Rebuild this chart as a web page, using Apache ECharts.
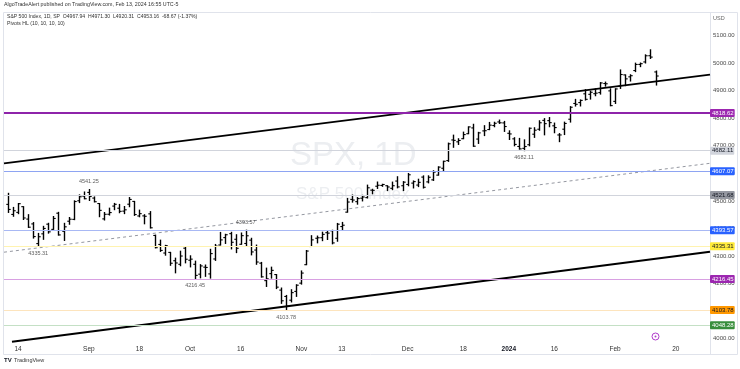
<!DOCTYPE html>
<html>
<head>
<meta charset="utf-8">
<script src="https://cdn.jsdelivr.net/npm/echarts@6/dist/echarts.min.js"></script>
<style>
html,body{margin:0;padding:0;background:#fff;}
#c{width:740px;height:369px;}
</style>
</head>
<body>
<div id="c"></div>
<script>
// ---- DATA ----
var dates = [
'2023-08-10','2023-08-11','2023-08-14','2023-08-15','2023-08-16','2023-08-17','2023-08-18','2023-08-21','2023-08-22','2023-08-23','2023-08-24','2023-08-25','2023-08-28','2023-08-29','2023-08-30','2023-08-31',
'2023-09-01','2023-09-05','2023-09-06','2023-09-07','2023-09-08','2023-09-11','2023-09-12','2023-09-13','2023-09-14','2023-09-15','2023-09-18','2023-09-19','2023-09-20','2023-09-21','2023-09-22','2023-09-25','2023-09-26','2023-09-27','2023-09-28','2023-09-29',
'2023-10-02','2023-10-03','2023-10-04','2023-10-05','2023-10-06','2023-10-09','2023-10-10','2023-10-11','2023-10-12','2023-10-13','2023-10-16','2023-10-17','2023-10-18','2023-10-19','2023-10-20','2023-10-23','2023-10-24','2023-10-25','2023-10-26','2023-10-27','2023-10-30','2023-10-31',
'2023-11-01','2023-11-02','2023-11-03','2023-11-06','2023-11-07','2023-11-08','2023-11-09','2023-11-10','2023-11-13','2023-11-14','2023-11-15','2023-11-16','2023-11-17','2023-11-20','2023-11-21','2023-11-22','2023-11-24','2023-11-27','2023-11-28','2023-11-29','2023-11-30',
'2023-12-01','2023-12-04','2023-12-05','2023-12-06','2023-12-07','2023-12-08','2023-12-11','2023-12-12','2023-12-13','2023-12-14','2023-12-15','2023-12-18','2023-12-19','2023-12-20','2023-12-21','2023-12-22','2023-12-26','2023-12-27','2023-12-28','2023-12-29',
'2024-01-02','2024-01-03','2024-01-04','2024-01-05','2024-01-08','2024-01-09','2024-01-10','2024-01-11','2024-01-12','2024-01-16','2024-01-17','2024-01-18','2024-01-19','2024-01-22','2024-01-23','2024-01-24','2024-01-25','2024-01-26','2024-01-29','2024-01-30','2024-01-31',
'2024-02-01','2024-02-02','2024-02-05','2024-02-06','2024-02-07','2024-02-08','2024-02-09','2024-02-12','2024-02-13',
'2024-02-14','2024-02-15','2024-02-16','2024-02-20'
];
var open = [
4487.16,4450.69,4458.13,4478.87,4433.79,4416.32,4344.88,4380.28,4415.33,4396.44,4455.16,4389.38,4426.03,4432.75,4500.34,4517.01,
4530.60,4510.06,4490.35,4434.55,4451.30,4480.98,4473.27,4462.65,4487.78,4497.98,4445.13,4445.41,4452.81,4374.36,4341.74,4310.62,4312.88,4282.63,4269.65,4328.18,
4284.52,4269.75,4233.83,4259.31,4234.79,4289.02,4339.75,4366.59,4380.94,4360.49,4342.37,4345.23,4357.35,4321.36,4273.85,4210.40,4235.79,4232.42,4175.99,4152.93,4139.39,4171.33,
4201.27,4268.26,4334.23,4364.27,4366.21,4384.37,4391.41,4364.15,4406.66,4458.97,4505.30,4497.08,4509.55,4511.70,4538.77,4553.04,4555.84,4554.86,4545.55,4571.84,4554.87,
4559.43,4564.37,4557.25,4586.23,4568.84,4576.20,4593.39,4618.30,4646.20,4721.04,4714.23,4725.58,4743.72,4764.73,4724.29,4753.92,4758.86,4773.45,4786.44,4782.88,
4745.20,4725.07,4697.42,4690.57,4703.70,4741.93,4759.94,4792.13,4791.18,4772.35,4739.13,4760.10,4796.28,4853.42,4856.80,4888.56,4886.66,4888.91,4892.95,4925.89,4899.19,
4861.11,4916.06,4957.19,4950.16,4973.05,4995.16,5004.17,5026.83,4967.94
];
var high = [
4527.37,4476.23,4490.33,4478.87,4449.95,4421.17,4381.82,4407.55,4418.59,4443.18,4458.30,4418.46,4439.56,4500.14,4521.65,4532.26,
4541.25,4514.29,4490.35,4457.81,4473.53,4490.77,4487.11,4479.39,4511.99,4497.98,4466.36,4449.85,4461.03,4375.70,4357.40,4338.51,4313.01,4292.07,4317.27,4333.15,
4300.58,4281.15,4268.50,4267.13,4324.10,4341.73,4385.46,4378.64,4385.85,4377.10,4383.33,4393.57,4364.20,4339.54,4276.56,4255.84,4259.38,4232.42,4183.60,4156.70,4177.47,4195.55,
4245.64,4319.72,4373.62,4372.21,4386.26,4391.20,4393.40,4418.03,4421.76,4508.67,4521.17,4511.99,4520.12,4557.11,4542.14,4568.43,4560.31,4554.86,4568.14,4587.64,4569.89,
4599.39,4572.37,4578.56,4590.74,4590.92,4609.23,4623.71,4643.93,4709.69,4738.57,4725.53,4749.52,4768.69,4778.01,4748.71,4772.94,4784.72,4785.39,4793.30,4788.43,
4754.33,4729.29,4726.78,4721.49,4764.54,4765.47,4790.80,4798.50,4802.40,4782.34,4744.23,4785.79,4842.07,4868.41,4866.48,4903.68,4898.15,4906.69,4929.31,4931.09,4906.75,
4906.97,4975.29,4957.19,4957.77,4999.89,5000.40,5030.06,5048.39,4971.30
];
var low = [
4457.92,4443.98,4453.44,4432.19,4403.55,4364.83,4335.31,4360.30,4382.77,4396.44,4375.55,4356.29,4414.98,4431.68,4493.59,4507.39,
4501.35,4496.01,4442.38,4430.46,4448.38,4467.89,4456.83,4453.52,4478.69,4447.21,4442.11,4416.61,4401.38,4329.17,4316.49,4302.70,4265.98,4238.63,4264.38,4274.86,
4260.21,4216.45,4220.48,4225.91,4219.55,4283.79,4339.64,4345.34,4325.43,4311.97,4342.37,4337.54,4303.84,4269.69,4223.03,4189.22,4219.43,4181.42,4127.90,4103.78,4132.94,4153.12,
4197.74,4268.26,4334.23,4347.53,4355.41,4359.76,4343.94,4353.34,4393.82,4458.97,4495.31,4487.83,4499.66,4510.36,4525.51,4545.05,4552.80,4537.26,4540.51,4547.15,4537.24,
4554.71,4546.72,4551.68,4546.50,4565.22,4574.06,4593.39,4608.09,4643.23,4694.34,4704.69,4725.58,4743.72,4697.82,4708.35,4736.77,4758.45,4768.90,4780.98,4751.99,
4722.67,4699.71,4687.53,4682.11,4699.82,4730.35,4756.20,4739.58,4768.98,4747.12,4714.82,4740.57,4785.87,4844.05,4844.37,4865.94,4869.34,4881.47,4887.40,4916.27,4845.15,
4853.52,4907.99,4918.09,4934.88,4969.05,4987.09,5000.34,5016.83,4920.31
];
var close = [
4468.83,4464.05,4489.72,4437.86,4404.33,4370.36,4369.71,4399.77,4387.55,4436.01,4376.31,4405.71,4433.31,4497.63,4514.87,4507.66,
4515.77,4496.83,4465.48,4451.14,4457.49,4487.46,4461.90,4467.44,4505.10,4450.32,4453.53,4443.95,4402.20,4330.00,4320.06,4337.44,4273.53,4274.51,4299.70,4288.05,
4288.39,4229.45,4263.75,4258.19,4308.50,4335.66,4358.24,4376.95,4349.61,4327.78,4373.63,4373.20,4314.60,4278.00,4224.16,4217.04,4247.68,4186.77,4137.23,4117.37,4166.82,4193.80,
4237.86,4317.78,4358.34,4365.98,4378.38,4382.78,4347.35,4415.24,4411.55,4495.70,4502.88,4508.24,4514.02,4547.38,4538.19,4556.62,4559.34,4550.43,4554.89,4550.58,4567.80,
4594.63,4569.78,4567.18,4549.34,4585.59,4604.37,4622.44,4643.70,4707.09,4719.55,4719.19,4740.56,4768.37,4698.35,4746.75,4754.63,4774.75,4781.58,4783.35,4769.83,
4742.83,4704.81,4688.68,4697.24,4763.54,4756.50,4783.45,4780.24,4783.83,4765.98,4739.21,4780.94,4839.81,4850.43,4864.60,4868.55,4894.16,4890.97,4927.93,4924.97,4845.65,
4906.19,4958.61,4942.81,4954.23,4995.06,4997.91,5026.61,5021.84,4953.16
];
var priceTicks = [4000,4100,4200,4300,4400,4500,4600,4700,4800,4900,5000,5100];
var timeLabelDates = ['2023-08-14','2023-09-01','2023-09-18','2023-10-02','2023-10-16','2023-11-01','2023-11-13','2023-12-01','2023-12-18','2024-01-02','2024-01-16','2024-02-01','2024-02-20'];
var timeLabelTexts = ['14','Sep','18','Oct','16','Nov','13','Dec','18','2024','16','Feb','20'];
var levelValues = [4953.16,4818.62,4682.11,4607.07,4521.68,4393.57,4335.31,4216.45,4103.78,4048.28];
var pivotHighDates = ['2023-09-01','2023-10-17'];
var pivotHighValues = [4541.25,4393.57];
var pivotLowDates = ['2023-08-18','2023-10-03','2023-10-27','2024-01-05'];
var pivotLowValues = [4335.31,4216.45,4103.78,4682.11];
// trend lines: [bar index, price]
var upperTrend = [[-0.767,4636.0],[138.76,4958.2]];
var lowerTrend = [[0.814,3988.8],[138.76,4315.4]];
var midTrend = [[-0.767,4313.6],[138.76,4636.3]];

// ---- STYLES ----
var levelStyles = [
  {line:'rgba(0,0,0,0)', w:0, bg:'#000000', fg:'#ffffff'},
  {line:'#8e24aa', w:2, bg:'#9c27b0', fg:'#ffffff'},
  {line:'#d1d4dc', w:1, bg:'#d1d4dc', fg:'#131722'},
  {line:'#8ea4f2', w:1, bg:'#2962ff', fg:'#ffffff'},
  {line:'#d1d4dc', w:1, bg:'#9598a1', fg:'#131722'},
  {line:'#a8b8f4', w:1, bg:'#2962ff', fg:'#ffffff'},
  {line:'#fff3b0', w:1, bg:'#ffeb3b', fg:'#131722'},
  {line:'#d8a0e2', w:1, bg:'#9c27b0', fg:'#ffffff'},
  {line:'#fde4bd', w:1, bg:'#ff9800', fg:'#131722'},
  {line:'#c4e0c5', w:1, bg:'#388e3c', fg:'#ffffff'}
];
var FONT = 'Liberation Sans, Arial, sans-serif';

var ohlc = close.map(function(c, i){ return [i, open[i], high[i], low[i], c]; });
var labelIdx = timeLabelDates.map(function(d){ return dates.indexOf(d); });
var labelMap = {};
labelIdx.forEach(function(ix, k){ labelMap[ix] = timeLabelTexts[k]; });

var levelData = levelValues.map(function(v, k){
  var s = levelStyles[k];
  return {
    yAxis: v,
    lineStyle: {color: s.line, width: s.w, type: 'solid', opacity: s.w ? 1 : 0},
    label: {show: true, position: 'end', distance: 0, formatter: v.toFixed(2),
      backgroundColor: s.bg, color: s.fg, fontSize: 6, fontFamily: FONT, padding: [1, 1, 1, 2], borderRadius: 1}
  };
});

var chart = echarts.init(document.getElementById('c'), null, {renderer: 'canvas'});
chart.setOption({
  animation: false,
  backgroundColor: '#ffffff',
  grid: {left: 4, right: 30, top: 12, bottom: 26, containLabel: false},
  xAxis: {
    type: 'value', min: -0.767, max: 138.76,
    axisLine: {show: false}, axisTick: {show: false}, splitLine: {show: false},
    axisLabel: {
      customValues: labelIdx, margin: 3, fontSize: 6.5, color: '#333', fontFamily: FONT,
      formatter: function(v){ var t = labelMap[Math.round(v)] || ''; return t === '2024' ? '{b|2024}' : t; },
      rich: {b: {fontWeight: 'bold', fontSize: 6.5, color: '#131722', fontFamily: FONT}}
    }
  },
  yAxis: {
    type: 'value', position: 'right', min: 3984.0, max: 5185.5, scale: true,
    axisLine: {show: false}, axisTick: {show: false}, splitLine: {show: false},
    axisLabel: {customValues: priceTicks, margin: 3, align: 'left', fontSize: 6, color: '#4a4a4a', fontFamily: FONT,
      formatter: function(v){ return v.toFixed(2); }}
  },
  series: [
    {
      name: 'levels', type: 'line', data: [], z: 1, silent: true,
      markLine: {symbol: ['none', 'none'], silent: true, animation: false, data: levelData}
    },
    {
      name: 'SPX', type: 'custom', z: 2, clip: true,
      data: ohlc, encode: {x: 0, y: [1, 2, 3, 4]},
      renderItem: function(params, api){
        var i = api.value(0);
        var o = api.coord([i, api.value(1)]);
        var h = api.coord([i, api.value(2)]);
        var l = api.coord([i, api.value(3)]);
        var c = api.coord([i, api.value(4)]);
        var x = Math.round(o[0]) + 0.5;
        var st = {stroke: '#000', lineWidth: 1.4};
        return {type: 'group', children: [
          {type: 'line', shape: {x1: x, y1: h[1] - 0.5, x2: x, y2: l[1] + 0.5}, style: st},
          {type: 'line', shape: {x1: x - 2.2, y1: o[1], x2: x, y2: o[1]}, style: {stroke: '#000', lineWidth: 1.1}},
          {type: 'line', shape: {x1: x, y1: c[1], x2: x + 2.2, y2: c[1]}, style: {stroke: '#000', lineWidth: 1.1}}
        ]};
      }
    },
    {name: 'mid', type: 'line', data: midTrend, z: 3, showSymbol: false, silent: true,
      lineStyle: {color: '#9598a1', width: 1, type: [3, 3]}},
    {name: 'upper', type: 'line', data: upperTrend, z: 4, showSymbol: false, silent: true,
      lineStyle: {color: '#000', width: 2}},
    {name: 'lower', type: 'line', data: lowerTrend, z: 4, showSymbol: false, silent: true,
      lineStyle: {color: '#000', width: 2}},
    {name: 'pivotHigh', type: 'scatter', z: 5, symbolSize: 0, silent: true,
      data: pivotHighDates.map(function(d, k){ return [dates.indexOf(d), pivotHighValues[k]]; }),
      label: {show: true, position: 'top', distance: 5, fontSize: 5.5, color: '#333', fontFamily: FONT,
        formatter: function(p){ return p.value[1].toFixed(2); }}},
    {name: 'pivotLow', type: 'scatter', z: 5, symbolSize: 0, silent: true,
      data: pivotLowDates.map(function(d, k){ return [dates.indexOf(d), pivotLowValues[k]]; }),
      label: {show: true, position: 'bottom', distance: 4, fontSize: 5.5, color: '#333', fontFamily: FONT,
        formatter: function(p){ return p.value[1].toFixed(2); }}}
  ],
  graphic: [
    {type: 'rect', z: 0, silent: true, shape: {x: 3.5, y: 12.5, width: 734, height: 342},
      style: {fill: 'none', stroke: '#e0e3eb', lineWidth: 1}},
    {type: 'line', z: 0, silent: true, shape: {x1: 710.5, y1: 12.5, x2: 710.5, y2: 354.5},
      style: {stroke: '#e0e3eb', lineWidth: 1}},
    {type: 'text', z: 0, silent: true, left: 290, top: 139,
      style: {text: 'SPX, 1D', fontSize: 33, fontFamily: FONT, fill: '#eceef1'}},
    {type: 'text', z: 0, silent: true, left: 296, top: 186,
      style: {text: 'S&P 500 Index', fontSize: 17, fontFamily: FONT, fill: '#eceef1'}},
    {type: 'text', silent: true, left: 4, top: 2,
      style: {text: 'AlgoTradeAlert published on TradingView.com, Feb 13, 2024 16:55 UTC-5', fontSize: 5.3, fontFamily: FONT, fill: '#333'}},
    {type: 'text', silent: true, left: 7, top: 14,
      style: {text: 'S&P 500 Index, 1D, SP  O4967.94  H4971.30  L4920.31  C4953.16  -68.67 (-1.37%)', fontSize: 5.1, fontFamily: FONT, fill: '#333'}},
    {type: 'text', silent: true, left: 7, top: 21,
      style: {text: 'Pivots HL (10, 10, 10, 10)', fontSize: 5.1, fontFamily: FONT, fill: '#333'}},
    {type: 'text', silent: true, left: 713, top: 15,
      style: {text: 'USD', fontSize: 5.5, fontFamily: FONT, fill: '#666'}},
    {type: 'text', silent: true, left: 4, top: 357,
      style: {text: 'TV', fontSize: 6, fontWeight: 'bold', fontFamily: FONT, fill: '#131722'}},
    {type: 'text', silent: true, left: 14, top: 357.5,
      style: {text: 'TradingView', fontSize: 5.5, fontFamily: FONT, fill: '#333'}},
    {type: 'circle', silent: true, shape: {cx: 655.5, cy: 336.5, r: 3.5},
      style: {fill: '#fff', stroke: '#b13ccb', lineWidth: 1}},
    {type: 'circle', silent: true, shape: {cx: 655.5, cy: 336.5, r: 1},
      style: {fill: '#b13ccb'}}
  ]
});
</script>
</body>
</html>
